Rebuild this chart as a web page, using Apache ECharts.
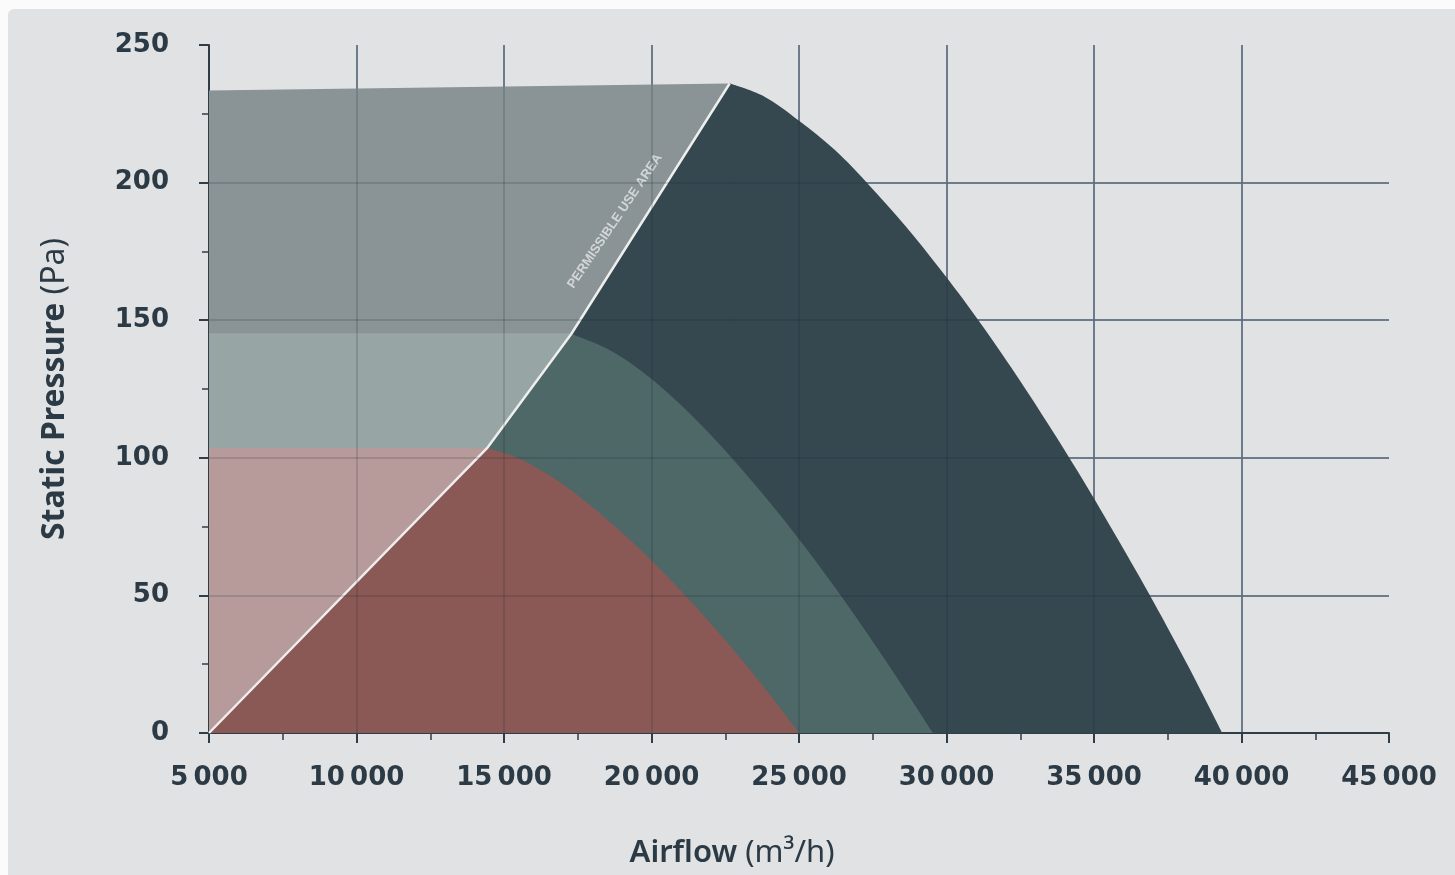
<!DOCTYPE html>
<html>
<head>
<meta charset="utf-8">
<script src="https://cdn.jsdelivr.net/npm/echarts@6/dist/echarts.min.js"></script>
<style>
  html, body { margin: 0; padding: 0; background: #fbfbfb; width: 1455px; height: 875px; overflow: hidden; }
  #card { position: absolute; left: 8px; top: 9px; width: 1460px; height: 880px; background: #e1e2e4; border-radius: 6px; }
  #chart { position: absolute; left: 0; top: 0; width: 1455px; height: 875px; }
</style>
</head>
<body>
<div id="card"></div>
<div id="chart"></div>
<script>
// ---- data (Airflow m3/h, Static Pressure Pa) ----
const xTickLabels = ['5\u2009000', '10\u2009000', '15\u2009000', '20\u2009000', '25\u2009000', '30\u2009000', '35\u2009000', '40\u2009000', '45\u2009000'];
const yTickLabels = ['0', '50', '100', '150', '200', '250'];

// boundary of the permissible use area (white line)
const permissibleLine = [[5000, 0], [14424, 103.5], [17280, 145], [22650, 236]];

// fan curves (from their peak on the permissible line down to zero pressure)
const darkCurve = [[22650, 236], [23800, 231.4], [25000, 222.5], [26200, 212], [27400, 198.8], [28600, 184.3], [29800, 168.3], [31000, 151.2], [32200, 132.7], [33400, 113], [34600, 92.4], [35800, 70.6], [37000, 48], [38200, 24.2], [39350, 0]];
const tealCurve = [[17280, 145], [18500, 139.6], [19700, 131.2], [20900, 120.2], [22100, 107.3], [23300, 92.8], [24500, 77.3], [25700, 60.5], [26900, 42.6], [28100, 23.7], [29540, 0]];
const redCurve  = [[14424, 103.5], [15400, 100.3], [16500, 93.9], [17600, 85.5], [18700, 75.7], [19800, 64.8], [20900, 52.8], [22000, 39.9], [23100, 26.1], [24100, 12.7], [25000, 0]];

// light zones left of the permissible line (top edges)
const grayTop  = [[5000, 233.5], [22650, 236]];
const tealTop  = [[5000, 145.3], [17280, 145.3]];
const redTop   = [[5000, 103.5], [14424, 103.5]];

// annotation
const annotationText = 'PERMISSIBLE USE AREA';
const annotationPoint = [[18760, 186]];

// ---- chart ----
const chart = echarts.init(document.getElementById('chart'), null, { renderer: 'canvas' });
const ink = '#2b3a44';
const labelFont = 'DejaVu Sans';

function zone(data, color, smooth) {
  return {
    type: 'line', data: data, symbol: 'none', silent: true,
    smooth: smooth ? 0.35 : false,
    lineStyle: { width: 0, opacity: 0 },
    areaStyle: { color: color, opacity: 1, origin: 'start' },
    z: 2
  };
}

// each fan zone = straight part under the permissible line + smooth part under the fan curve
function fanZone(lineUpToPeak, curve, color) {
  return [
    zone(lineUpToPeak.concat([curve[1]]), color, false),
    zone(curve, color, true)
  ];
}

const option = {
  backgroundColor: 'transparent',
  animation: false,
  grid: { left: 209, right: 66, top: 45, bottom: 142, containLabel: false },
  xAxis: [{
    type: 'value', min: 5000, max: 45000, interval: 5000,
    name: '{b|Airflow}{r| (m³/h)}',
    nameLocation: 'middle', nameGap: 105,
    nameTextStyle: {
      padding: [0, 134, 0, 0],
      rich: {
        b: { fontFamily: 'Noto Sans', fontSize: 31, fontWeight: 600, color: ink },
        r: { fontFamily: 'Noto Sans', fontSize: 31, fontWeight: 'normal', color: ink }
      }
    },
    axisLine: { show: true, onZero: false, lineStyle: { color: '#2e3d48', width: 2 } },
    axisTick: { show: true, length: 10, lineStyle: { color: '#2e3d48', width: 2 } },
    minorTick: { show: true, splitNumber: 2, length: 7, lineStyle: { color: '#2e3d48', width: 1.5 } },
    axisLabel: {
      margin: 32, fontFamily: labelFont, fontWeight: 'bold', fontSize: 26, color: ink,
      formatter: function (v) { return xTickLabels[Math.round((v - 5000) / 5000)]; }
    },
    splitLine: { show: true, showMinLine: false, showMaxLine: false, lineStyle: { color: '#7f8c9b', width: 2 } },
    z: 0
  }, {
    type: 'value', min: 5000, max: 45000, interval: 5000, position: 'bottom',
    axisLine: { show: false }, axisTick: { show: false }, axisLabel: { show: false },
    splitLine: { show: true, showMinLine: false, showMaxLine: false, lineStyle: { color: 'rgba(20,35,48,0.16)', width: 2 } },
    z: 5
  }],
  yAxis: [{
    type: 'value', min: 0, max: 250, interval: 50,
    name: '{b|Static Pressure}{r| (Pa)}',
    nameLocation: 'middle', nameGap: 138,
    nameTextStyle: {
      rich: {
        b: { fontFamily: 'Noto Sans', fontSize: 32, fontWeight: 'bold', color: ink },
        r: { fontFamily: 'Noto Sans', fontSize: 32, fontWeight: 'normal', color: ink }
      }
    },
    axisLine: { show: true, onZero: false, lineStyle: { color: '#2e3d48', width: 2 } },
    axisTick: { show: true, length: 10, lineStyle: { color: '#2e3d48', width: 2 } },
    minorTick: { show: true, splitNumber: 2, length: 7, lineStyle: { color: '#2e3d48', width: 1.5 } },
    axisLabel: {
      margin: 40, fontFamily: labelFont, fontWeight: 'bold', fontSize: 26, color: ink,
      formatter: function (v) { return yTickLabels[Math.round(v / 50)]; }
    },
    splitLine: { show: true, showMinLine: false, showMaxLine: false, lineStyle: { color: '#7f8c9b', width: 2 } },
    z: 0
  }, {
    type: 'value', min: 0, max: 250, interval: 50, position: 'left',
    axisLine: { show: false }, axisTick: { show: false }, axisLabel: { show: false },
    splitLine: { show: true, showMinLine: false, showMaxLine: false, lineStyle: { color: 'rgba(20,35,48,0.16)', width: 2 } },
    z: 5
  }],
  series: [
    zone(grayTop, '#8a9395', false),
    zone(tealTop, '#97a6a5', false),
    zone(redTop, '#b79a9a', false)
  ].concat(
    fanZone(permissibleLine, darkCurve, '#35474f'),
    fanZone(permissibleLine.slice(0, 3), tealCurve, '#4e6767'),
    fanZone(permissibleLine.slice(0, 2), redCurve, '#8b5955'),
    [{
      type: 'line', data: permissibleLine, symbol: 'none', silent: true,
      lineStyle: { color: '#eeeeee', width: 2.5 }, z: 3
    },
    {
      type: 'scatter', data: annotationPoint, symbolSize: 0, silent: true,
      label: {
        show: true, position: 'inside', rotate: 56,
        formatter: annotationText,
        fontFamily: 'Liberation Sans', fontWeight: 'bold', fontSize: 13, color: '#e4e7e8'
      },
      z: 4
    }]
  )
};
chart.setOption(option);
</script>
</body>
</html>
